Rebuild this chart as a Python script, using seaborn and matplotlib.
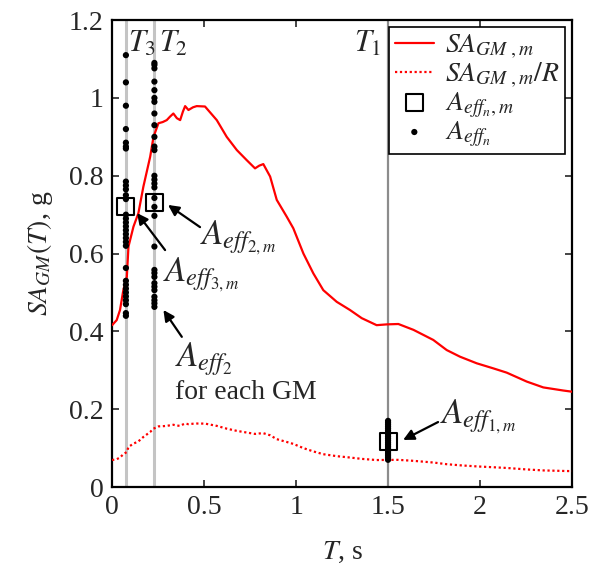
import numpy as np
import pandas as pd
import matplotlib
matplotlib.use("Agg")
import matplotlib.pyplot as plt
import seaborn as sns

# Median spectrum of the ground-motion set
period = [0.0, 0.025, 0.043, 0.061, 0.08, 0.089, 0.116, 0.143, 0.17, 0.207,
          0.225, 0.252, 0.275, 0.297, 0.315, 0.333, 0.352, 0.37, 0.385, 0.397,
          0.415, 0.44, 0.46, 0.505, 0.569, 0.623, 0.678, 0.732, 0.777, 0.80,
          0.822, 0.859, 0.895, 0.949, 0.985, 1.04, 1.094, 1.148, 1.221, 1.293,
          1.357, 1.438, 1.493, 1.556, 1.638, 1.746, 1.819, 1.891, 1.982, 2.072,
          2.145, 2.254, 2.344, 2.453, 2.5]
sa_median = [0.416, 0.429, 0.455, 0.506, 0.54, 0.618, 0.669, 0.704, 0.772, 0.849,
             0.90, 0.935, 0.938, 0.943, 0.952, 0.96, 0.948, 0.943, 0.965, 0.979,
             0.969, 0.976, 0.979, 0.978, 0.943, 0.90, 0.866, 0.84, 0.819, 0.826,
             0.83, 0.798, 0.738, 0.695, 0.665, 0.60, 0.549, 0.506, 0.476, 0.455,
             0.434, 0.416, 0.418, 0.419, 0.404, 0.378, 0.352, 0.335, 0.318, 0.305,
             0.294, 0.271, 0.256, 0.248, 0.245]
R = 6.0

# Modal periods
T1, T2, T3 = 1.5, 0.23, 0.075

# Effective modal accelerations for each ground motion
aeff1 = [0.17, 0.165, 0.16, 0.155, 0.15, 0.145, 0.14, 0.135, 0.13, 0.125, 0.12,
         0.115, 0.11, 0.105, 0.10, 0.095, 0.09, 0.085, 0.08, 0.075, 0.07]
aeff2 = [1.09, 1.085, 1.076, 1.042, 1.02, 1.0, 0.99, 0.96, 0.93, 0.90, 0.875,
         0.866, 0.80, 0.79, 0.78, 0.77, 0.743, 0.72, 0.697, 0.618, 0.558, 0.55,
         0.54, 0.524, 0.515, 0.506, 0.489, 0.48, 0.472, 0.463]
aeff3 = [1.11, 1.04, 0.98, 0.92, 0.885, 0.875, 0.87, 0.785, 0.775, 0.765, 0.75,
         0.74, 0.70, 0.69, 0.68, 0.67, 0.66, 0.65, 0.64, 0.63, 0.62, 0.563, 0.53,
         0.52, 0.51, 0.50, 0.49, 0.48, 0.47, 0.447, 0.44]
# Median effective modal accelerations
aeff_median = [0.117, 0.732, 0.72]

spec = pd.DataFrame({"T": period, "SA": sa_median})
spec["SA_R"] = spec["SA"] / R
dots = pd.DataFrame({
    "T": [T1] * len(aeff1) + [T2] * len(aeff2) + [T3] * len(aeff3),
    "A": aeff1 + aeff2 + aeff3,
})
meds = pd.DataFrame({"T": [T1, T2, T3], "A": aeff_median})

sns.set_style("ticks")
plt.rcParams["font.family"] = ["Liberation Serif", "DejaVu Serif"]
plt.rcParams["mathtext.fontset"] = "stix"

fig = plt.figure(figsize=(5.9, 5.75), dpi=100)
ax = fig.add_axes([0.19, 0.153, 0.7795, 0.812])

for t, c, w in [(T3, "#c4c4c4", 2.2), (T2, "#c4c4c4", 2.2), (T1, "#8c8c8c", 1.6)]:
    ax.axvline(t, color=c, lw=w, zorder=1)

sns.lineplot(data=spec, x="T", y="SA", color="red", lw=1.6, ax=ax,
             label=r"$SA_{GM\ ,m}$", zorder=3)
sns.lineplot(data=spec, x="T", y="SA_R", color="red", lw=1.6, ax=ax,
             linestyle=(0, (1, 1.2)), label=r"$SA_{GM\ ,m}/R$", zorder=3)
sns.scatterplot(data=dots, x="T", y="A", color="black", s=20, edgecolor="none",
                ax=ax, label=r"$A_{eff_n}$", zorder=4)
sns.scatterplot(data=meds, x="T", y="A", marker="s", s=150, facecolor="none",
                edgecolor="black", linewidth=1.5, ax=ax,
                label=r"$A_{eff_n,m}$", zorder=5)

ax.set_xlim(0, 2.5)
ax.set_ylim(0, 1.2)
ax.set_xticks([0, 0.5, 1, 1.5, 2, 2.5])
ax.set_xticklabels(["0", "0.5", "1", "1.5", "2", "2.5"])
ax.set_yticks([0, 0.2, 0.4, 0.6, 0.8, 1.0, 1.2])
ax.set_yticklabels(["0", "0.2", "0.4", "0.6", "0.8", "1", "1.2"])
ax.tick_params(direction="in", length=5, width=1.2, labelsize=20,
               top=True, right=True, pad=6)
for s in ax.spines.values():
    s.set_visible(True)
    s.set_linewidth(1.6)
    s.set_color("black")

ax.set_xlabel(r"$T$, s", fontsize=20, labelpad=14)
ax.set_ylabel(r"$SA_{GM}(T)$, g", fontsize=20, labelpad=10)

# Period labels
ax.text(0.085, 1.175, r"$T_3$", fontsize=22, va="top", ha="left")
ax.text(0.255, 1.175, r"$T_2$", fontsize=22, va="top", ha="left")
ax.text(1.465, 1.175, r"$T_1$", fontsize=22, va="top", ha="right")

arrow = dict(arrowstyle="-|>", color="black", lw=1.6, mutation_scale=16,
             shrinkA=0, shrinkB=0)
fs = 25
ax.annotate("", xy=(0.304, 0.725), xytext=(0.478, 0.668), arrowprops=arrow)
ax.text(0.48, 0.64, r"$A_{eff_{2,m}}$", fontsize=fs, va="center", ha="left")
ax.annotate("", xy=(0.136, 0.704), xytext=(0.288, 0.609), arrowprops=arrow)
ax.text(0.275, 0.545, r"$A_{eff_{3,m}}$", fontsize=fs, va="center", ha="left")
ax.annotate("", xy=(0.279, 0.455), xytext=(0.379, 0.386), arrowprops=arrow)
ax.text(0.342, 0.33, r"$A_{eff_2}$", fontsize=fs, va="center", ha="left")
ax.text(0.342, 0.244, "for each GM", fontsize=20, va="center", ha="left")
ax.annotate("", xy=(1.582, 0.121), xytext=(1.772, 0.167), arrowprops=arrow)
ax.text(1.783, 0.18, r"$A_{eff_{1,m}}$", fontsize=fs, va="center", ha="left")

handles, labels = ax.get_legend_handles_labels()
order = [labels.index(l) for l in [r"$SA_{GM\ ,m}$", r"$SA_{GM\ ,m}/R$",
                                   r"$A_{eff_n,m}$", r"$A_{eff_n}$"]]
leg = ax.legend([handles[i] for i in order], [labels[i] for i in order],
                loc="upper right", fontsize=20, frameon=True, fancybox=False,
                edgecolor="black", framealpha=1, borderaxespad=0.25,
                handlelength=1.4, handletextpad=0.4, labelspacing=0.0,
                borderpad=0.2)
leg.get_frame().set_linewidth(1.2)

fig.savefig("out.png", dpi=100)
